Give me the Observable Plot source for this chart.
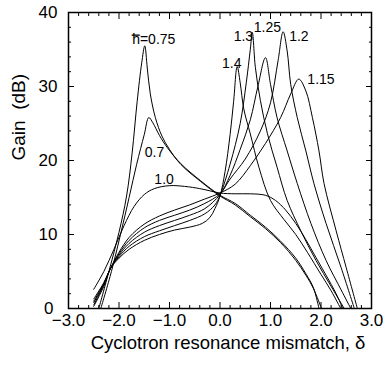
<!DOCTYPE html>
<html><head><meta charset="utf-8">
<script src="https://cdn.jsdelivr.net/npm/d3@7"></script>
<script src="https://cdn.jsdelivr.net/npm/@observablehq/plot@0.6"></script>
<style>body{margin:0;background:#fff} svg{display:block}</style>
</head><body><div id="chart"></div>
<script>
// Tick values
const xMajor = [-3, -2, -1, 0, 1, 2, 3];
const xMinor = [-2.8,-2.6,-2.4,-2.2,-1.8,-1.6,-1.4,-1.2,-0.8,-0.6,-0.4,-0.2,0.2,0.4,0.6,0.8,1.2,1.4,1.6,1.8,2.2,2.4,2.6,2.8];
const yMajorUpper = [10, 20, 30, 40];
const yZero = [0];
const yMajor = [0, 10, 20, 30, 40];
const yMinor = [2,4,6,8,12,14,16,18,22,24,26,28,32,34,36,38];

// Axis titles
const xTitle = ["Cyclotron resonance mismatch, \u03B4"];
const yTitle = ["Gain\u00A0\u00A0(dB)"];

// Gain curves [delta, gain dB] for each h
const h070 = [[-2.36,0],[-2.15,5],[-1.97,10],[-1.8,15],[-1.65,19.5],[-1.5,23.5],[-1.41,25.8],[-1.33,25.1],[-1.2,23.4],[-1.05,21.8],[-0.78,19.6],[-0.39,17.3],[0,15.3],[0.3,14.2],[0.6,12.6],[0.9,11.0],[1.2,9.1],[1.5,6.8],[1.7,4.7],[1.85,2.8],[1.96,0]];
const h075 = [[-2.40,0],[-2.2,5.0],[-2.0,10.3],[-1.85,15.2],[-1.74,21],[-1.64,28],[-1.55,33.2],[-1.49,35.5],[-1.44,32.5],[-1.38,29],[-1.28,25.8],[-1.15,23.3],[-1.0,21.5],[-0.78,19.5],[-0.39,17.2],[0,15.2],[0.3,14.0],[0.6,12.4],[0.9,10.8],[1.2,8.9],[1.5,6.5],[1.7,4.5],[1.85,2.7],[2.01,0]];
const h100 = [[-2.5,2.6],[-2.3,5.0],[-2.1,8.0],[-1.9,11.2],[-1.7,13.8],[-1.5,15.4],[-1.3,16.2],[-1.0,16.6],[-0.7,16.5],[-0.4,16.2],[-0.2,15.9],[0,15.6],[0.3,15.5],[0.6,15.5],[0.9,15.3],[1.1,14.6],[1.3,13.3],[1.5,11.5],[1.7,9.3],[1.9,6.9],[2.1,4.5],[2.3,2.0],[2.43,0]];
const h115 = [[-2.5,1.3],[-2.3,3.5],[-2.17,5.4],[-2.0,7.6],[-1.8,9.6],[-1.5,11.4],[-1.2,12.5],[-0.9,13.3],[-0.6,14.0],[-0.3,14.8],[0,15.6],[0.3,16.8],[0.6,19.3],[0.9,22.3],[1.2,25.8],[1.4,29.0],[1.56,31.0],[1.70,29.4],[1.83,25.8],[1.96,21.3],[2.06,16.9],[2.3,10.5],[2.5,5.5],[2.72,0]];
const h120 = [[-2.5,1.0],[-2.3,3.4],[-2.17,5.4],[-2.0,7.4],[-1.8,9.2],[-1.5,10.9],[-1.2,11.9],[-0.9,12.6],[-0.6,13.3],[-0.3,14.2],[0,15.5],[0.2,17.5],[0.5,20.2],[0.8,24],[1.0,27.8],[1.15,33.5],[1.25,37.4],[1.33,34.8],[1.40,30.3],[1.53,25.8],[1.70,21.3],[1.86,16.9],[2.1,11.5],[2.4,5.5],[2.66,0]];
const h125 = [[-2.5,0.8],[-2.3,3.3],[-2.17,5.4],[-2.0,7.2],[-1.8,8.8],[-1.5,10.3],[-1.2,11.2],[-0.9,11.9],[-0.6,12.6],[-0.3,13.5],[0,15.4],[0.2,18],[0.4,21.5],[0.6,25.5],[0.75,30],[0.9,33.9],[1.0,30.3],[1.13,25.8],[1.33,21.3],[1.53,16.9],[1.8,11.5],[2.1,6.5],[2.4,2.5],[2.59,0]];
const h130 = [[-2.5,0.5],[-2.3,3.2],[-2.17,5.4],[-2.0,7.0],[-1.8,8.4],[-1.5,9.7],[-1.2,10.5],[-0.9,11.2],[-0.6,11.9],[-0.3,12.8],[-0.1,14.0],[0,15.3],[0.2,19.5],[0.4,25],[0.52,30.5],[0.6,35],[0.64,37.3],[0.7,32.6],[0.8,28.1],[0.94,23.6],[1.13,19.1],[1.33,14.6],[1.6,10.5],[1.9,6.5],[2.2,3.0],[2.46,0]];
const h140 = [[-2.5,0.3],[-2.3,3.0],[-2.17,5.4],[-2.0,6.8],[-1.8,8.0],[-1.5,9.2],[-1.2,10.0],[-0.9,10.6],[-0.6,11.0],[-0.35,11.5],[-0.2,12.3],[-0.1,13.5],[0,15.2],[0.1,18.5],[0.2,23.5],[0.27,28],[0.34,32.7],[0.40,30.5],[0.47,27],[0.6,23.6],[0.77,19.1],[1.0,14.6],[1.27,12.0],[1.5,10],[1.73,7.6],[2.0,4.6],[2.2,2.4],[2.39,0]];

// Curve labels
const labelText = ["h\u033F=0.75", "0.7", "1.0", "1.4", "1.3", "1.25", "1.2", "1.15"];
const labelX = [-1.74, -1.49, -1.30, 0.04, 0.27, 0.67, 1.37, 1.73];
const labelY = [36.3, 21.1, 17.4, 33.1, 36.7, 38.0, 36.7, 31.0];

const series = [h070, h075, h100, h115, h120, h125, h130, h140];
const labels = labelText.map((t, i) => ({t, x: labelX[i], y: labelY[i]}));

const fmtX = d => (d < 0 ? "\u2212" : "") + Math.abs(d).toFixed(1);
const blank = () => "";

const plot = Plot.plot({
  width: 383, height: 366,
  marginLeft: 68, marginRight: 12, marginTop: 12, marginBottom: 58,
  x: {domain: [-3, 3]},
  y: {domain: [0, 40]},
  style: {fontFamily: "'Liberation Sans', Arial, sans-serif", background: "white", color: "black"},
  marks: [
    ...series.map(s => Plot.line(s, {x: d => d[0], y: d => d[1], curve: "catmull-rom", stroke: "black", strokeWidth: 1, clip: true})),
    Plot.frame({stroke: "black", strokeWidth: 1.5}),
    Plot.axisX(xMajor, {anchor: "bottom", tickSize: -6, tickPadding: 11, tickFormat: fmtX, fontSize: 17, label: null}),
    Plot.axisX(xMinor, {anchor: "bottom", tickSize: -3, tickFormat: blank, label: null}),
    Plot.axisX(xMajor, {anchor: "top", tickSize: -6, tickFormat: blank, label: null}),
    Plot.axisX(xMinor, {anchor: "top", tickSize: -3, tickFormat: blank, label: null}),
    Plot.axisY(yMajorUpper, {anchor: "left", tickSize: -6, tickPadding: 17, tickFormat: d => String(d), fontSize: 17, label: null}),
    Plot.axisY(yZero, {anchor: "left", tickSize: -6, tickPadding: 21, tickFormat: d => String(d), fontSize: 17, label: null}),
    Plot.axisY(yMinor, {anchor: "left", tickSize: -3, tickFormat: blank, label: null}),
    Plot.axisY(yMajor, {anchor: "right", tickSize: -6, tickFormat: blank, label: null}),
    Plot.axisY(yMinor, {anchor: "right", tickSize: -3, tickFormat: blank, label: null}),
    Plot.text(xTitle, {frameAnchor: "bottom", dx: 8, dy: 35, lineAnchor: "middle", fontSize: 18.5, fill: "black"}),
    Plot.text(yTitle, {frameAnchor: "left", dx: -50, rotate: -90, lineAnchor: "middle", fontSize: 19, fill: "black"}),
    Plot.text(labels, {x: "x", y: "y", text: "t", textAnchor: "start", lineAnchor: "middle", fontSize: 14, fill: "black"})
  ]
});
document.getElementById("chart").appendChild(plot);
</script>
</body></html>
